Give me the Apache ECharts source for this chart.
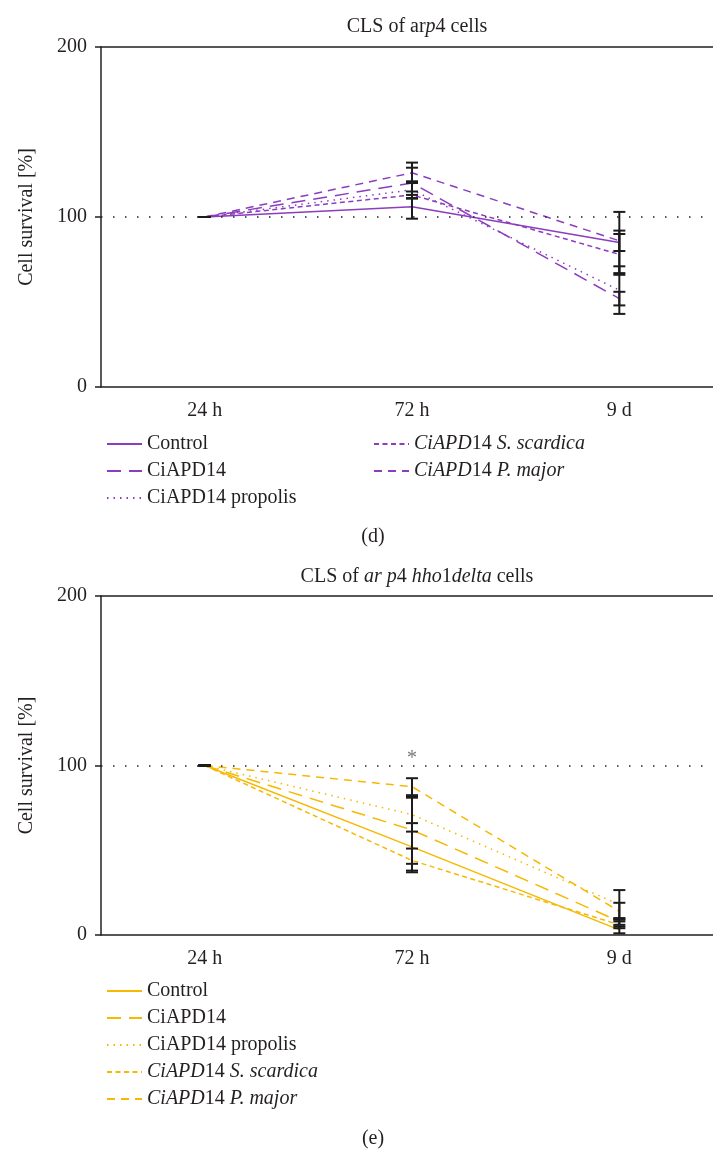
<!DOCTYPE html>
<html>
<head>
<meta charset="utf-8">
<script src="https://cdn.jsdelivr.net/npm/echarts@6/dist/echarts.min.js"></script>
<style>
html,body{margin:0;padding:0;background:#fff;}
#chart{width:713px;height:1149px;}
</style>
</head>
<body>
<div id="chart"></div>
<script>
// ---- data ----
const categories = ['24 h', '72 h', '9 d'];
const yTicks = [0, 100, 200];
const seriesNames = ['Control', 'CiAPD14', 'CiAPD14 propolis', 'CiAPD14 S. scardica', 'CiAPD14 P. major'];

// panel (d): arp4 cells
const d_control = [100, 106, 85];
const d_ciapd14 = [100, 120, 52];
const d_propolis = [100, 116, 57];
const d_scardica = [100, 113, 78];
const d_pmajor = [100, 126, 86];
const d_control_err = [0, 7, 18];
const d_ciapd14_err = [0, 9, 4];
const d_propolis_err = [0, 5, 14];
const d_scardica_err = [0, 2, 12];
const d_pmajor_err = [0, 6, 6];

// panel (e): arp4 hho1delta cells
const e_control = [100, 52, 3];
const e_ciapd14 = [100, 62, 8];
const e_propolis = [100, 71, 18];
const e_scardica = [100, 44, 6];
const e_pmajor = [100, 87.5, 14];
const e_control_err = [0, 14, 2];
const e_ciapd14_err = [0, 20, 2];
const e_propolis_err = [0, 10, 8.5];
const e_scardica_err = [0, 7, 2];
const e_pmajor_err = [0, 5, 5];
const e_sig = ['', '*', ''];
const e_sigValue = [null, 104, null];

// ---- styling ----
const FONT = '"Liberation Serif", "DejaVu Serif", serif';
const TXT = '#231f20';
const PURPLE = '#8C3CBF';
const GOLD = '#F6B800';
const dashTypes = ['solid', [14, 8], [1.5, 5], [5, 3.5], [8, 6]];
const legendRich = {
  i: {fontStyle: 'italic', fontFamily: FONT, fontSize: 20, color: TXT, lineHeight: 20},
  n: {fontFamily: FONT, fontSize: 20, color: TXT, lineHeight: 20}
};
function legendFmt(name) {
  if (name === 'CiAPD14 S. scardica') return '{i|CiAPD}{n|14 }{i|S. scardica}';
  if (name === 'CiAPD14 P. major') return '{i|CiAPD}{n|14 }{i|P. major}';
  return '{n|' + name + '}';
}

function lineSeries(name, data, color, idx, gi) {
  return {
    name: name, type: 'line', data: data,
    xAxisIndex: gi, yAxisIndex: gi,
    showSymbol: false, symbol: 'none', color: color,
    lineStyle: {color: color, width: 1.5, type: dashTypes[idx]},
    z: 3, animation: false
  };
}
function errSeries(vals, errs, gi) {
  const data = [];
  for (let s = 0; s < vals.length; s++) {
    for (let k = 0; k < categories.length; k++) {
      data.push([k, vals[s][k] - errs[s][k], vals[s][k] + errs[s][k]]);
    }
  }
  return {
    type: 'custom', xAxisIndex: gi, yAxisIndex: gi, z: 5, silent: true, animation: false,
    dimensions: ['x', 'lo', 'hi'], encode: {x: 0, y: [1, 2]},
    data: data,
    renderItem: function (params, api) {
      const x = api.value(0);
      const lo = api.coord([x, api.value(1)]);
      const hi = api.coord([x, api.value(2)]);
      const w = 6;
      const st = {stroke: '#1c1c1c', lineWidth: 2};
      return {type: 'group', children: [
        {type: 'line', shape: {x1: lo[0], y1: lo[1], x2: hi[0], y2: hi[1]}, style: st},
        {type: 'line', shape: {x1: hi[0] - w, y1: hi[1], x2: hi[0] + w, y2: hi[1]}, style: st},
        {type: 'line', shape: {x1: lo[0] - w, y1: lo[1], x2: lo[0] + w, y2: lo[1]}, style: st}
      ]};
    }
  };
}
function refLine() {
  return {
    silent: true, symbol: ['none', 'none'], animation: false,
    label: {show: false},
    lineStyle: {color: '#222', type: [1.5, 10.5], width: 1.5},
    data: [{yAxis: 100}]
  };
}

const axisLineStyle = {color: TXT, width: 1.5};
function xBottom(gi) {
  return {
    type: 'category', gridIndex: gi, data: categories, position: 'bottom',
    boundaryGap: true,
    axisLine: {lineStyle: axisLineStyle},
    axisTick: {alignWithLabel: true, length: 7, lineStyle: axisLineStyle},
    axisLabel: {color: TXT, fontFamily: FONT, fontSize: 20, margin: 14},
    splitLine: {show: false}
  };
}
function xTop(gi) {
  return {
    type: 'category', gridIndex: gi, data: categories, position: 'top',
    axisLine: {lineStyle: axisLineStyle}, axisTick: {show: false},
    axisLabel: {show: false}, splitLine: {show: false}
  };
}
function yAx(gi) {
  return {
    type: 'value', gridIndex: gi, min: yTicks[0], max: yTicks[yTicks.length - 1], interval: 100,
    name: 'Cell survival [%]', nameLocation: 'middle', nameGap: 64, nameRotate: 90,
    nameTextStyle: {color: TXT, fontFamily: FONT, fontSize: 20},
    axisLine: {show: true, lineStyle: axisLineStyle},
    axisTick: {show: true, length: 6, lineStyle: axisLineStyle},
    axisLabel: {color: TXT, fontFamily: FONT, fontSize: 20, margin: 14},
    splitLine: {show: false}
  };
}

const dVals = [d_control, d_ciapd14, d_propolis, d_scardica, d_pmajor];
const dErrs = [d_control_err, d_ciapd14_err, d_propolis_err, d_scardica_err, d_pmajor_err];
const eVals = [e_control, e_ciapd14, e_propolis, e_scardica, e_pmajor];
const eErrs = [e_control_err, e_ciapd14_err, e_propolis_err, e_scardica_err, e_pmajor_err];

const series = [];
dVals.forEach((v, i) => {
  const s = lineSeries(seriesNames[i], v, PURPLE, i, 0);
  if (i === 0) s.markLine = refLine();
  series.push(s);
});
series.push(errSeries(dVals, dErrs, 0));
eVals.forEach((v, i) => {
  const s = lineSeries(seriesNames[i] + ' ', v, GOLD, i, 1);
  if (i === 0) s.markLine = refLine();
  series.push(s);
});
series.push(errSeries(eVals, eErrs, 1));
series.push({
  type: 'scatter', xAxisIndex: 1, yAxisIndex: 1, symbolSize: 0, silent: true, animation: false,
  data: e_sigValue.map((v, k) => v === null ? null : {value: [k, v], label: {show: true, formatter: e_sig[k]}}),
  label: {show: true, position: 'inside', color: '#555', fontFamily: FONT, fontSize: 20},
  z: 6
});

const legendTextStyle = {rich: legendRich, padding: [0, 0, 0, 0]};
const legendItemStyle = {opacity: 0, color: 'transparent', borderWidth: 0};
const legendCommon = {
  orient: 'vertical', itemWidth: 35, itemHeight: 14, itemGap: 7,
  itemStyle: legendItemStyle, textStyle: legendTextStyle, selectedMode: false
};
const option = {
  backgroundColor: '#fff',
  animation: false,
  title: [
    {text: 'CLS of ar{i|p}4 cells', left: 412, top: 12, textAlign: 'center',
      textStyle: {fontFamily: FONT, fontSize: 20, fontWeight: 'normal', color: TXT, rich: legendRich}},
    {text: 'CLS of {i|ar p}4 {i|hho}1{i|delta} cells', left: 412, top: 562, textAlign: 'center',
      textStyle: {fontFamily: FONT, fontSize: 20, fontWeight: 'normal', color: TXT, rich: legendRich}},
    {text: '(d)', left: 368, top: 522, textAlign: 'center',
      textStyle: {fontFamily: FONT, fontSize: 20, fontWeight: 'normal', color: TXT}},
    {text: '(e)', left: 368, top: 1124, textAlign: 'center',
      textStyle: {fontFamily: FONT, fontSize: 20, fontWeight: 'normal', color: TXT}}
  ],
  grid: [
    {left: 101, top: 47, width: 622, height: 340, outerBoundsMode: 'none', containLabel: false},
    {left: 101, top: 596, width: 622, height: 339, outerBoundsMode: 'none', containLabel: false}
  ],
  xAxis: [xBottom(0), xBottom(1), xTop(0), xTop(1)],
  yAxis: [yAx(0), yAx(1)],
  legend: [
    Object.assign({data: seriesNames.slice(0, 3), left: 101, top: 429, formatter: legendFmt}, legendCommon),
    Object.assign({data: seriesNames.slice(3), left: 368, top: 429, formatter: legendFmt}, legendCommon),
    Object.assign({data: seriesNames.map(n => n + ' '), left: 101, top: 976, formatter: n => legendFmt(n.trim())}, legendCommon)
  ],
  series: series
};

const chart = echarts.init(document.getElementById('chart'), null, {renderer: 'canvas'});
chart.setOption(option);
</script>
</body>
</html>
